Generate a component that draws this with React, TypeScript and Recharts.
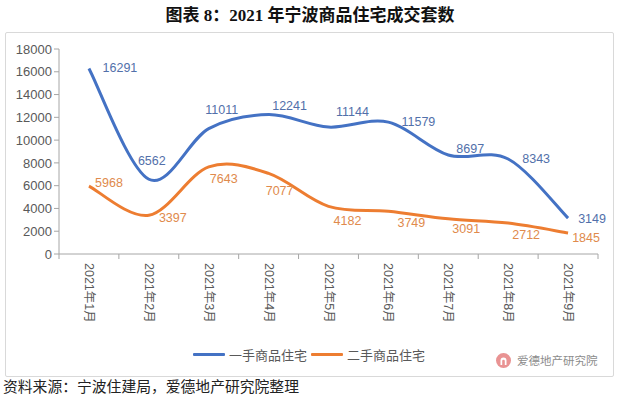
import React from 'react';
import { LineChart, Line, XAxis, YAxis, LabelList } from 'recharts';

const months = ['2021年1月', '2021年2月', '2021年3月', '2021年4月', '2021年5月', '2021年6月', '2021年7月', '2021年8月', '2021年9月'];
const firstHand = [16291, 6562, 11011, 12241, 11144, 11579, 8697, 8343, 3149];
const secondHand = [5968, 3397, 7643, 7077, 4182, 3749, 3091, 2712, 1845];
const yTicks = [0, 2000, 4000, 6000, 8000, 10000, 12000, 14000, 16000, 18000];

const FIRST_NAME = '一手商品住宅';
const SECOND_NAME = '二手商品住宅';
const BLUE = '#4472C4';
const ORANGE = '#ED7D31';
const BLUE_LABEL = '#5270AA';
const ORANGE_LABEL = '#E08A4C';
const AXIS = '#A6A6A6';
const TEXT = '#595959';
const FONT = '"Liberation Sans", "Noto Sans CJK SC", sans-serif';

// label nudges (center of label relative to point), hand placed like the original
const firstOffsets = [[31, 0], [3, -18], [13, -19], [21, -9], [24, -15], [30, 0], [22, -6], [28, 0], [24, 1]];
const secondOffsets = [[20, -3], [24, 3], [15, 12], [11, 18], [19, 15], [23, 12], [18, 10], [18, 12], [18, 5]];

const data = months.map((m, i) => ({ x: i + 0.5, month: m, first: firstHand[i], second: secondHand[i] }));
const xTicks = Array.from({ length: months.length * 2 + 1 }, (_, i) => i / 2);

// Excel-like smoothing (catmull-rom as cubic bezier)
const smoothCurve = (context: any) => {
  let pts: number[][] = [];
  return {
    areaStart() {},
    areaEnd() {},
    lineStart() {
      pts = [];
    },
    point(x: number, y: number) {
      pts.push([+x, +y]);
    },
    lineEnd() {
      const n = pts.length;
      if (!n) return;
      context.moveTo(pts[0][0], pts[0][1]);
      for (let i = 0; i < n - 1; i++) {
        const p0 = pts[Math.max(i - 1, 0)];
        const p1 = pts[i];
        const p2 = pts[i + 1];
        const p3 = pts[Math.min(i + 2, n - 1)];
        context.bezierCurveTo(
          p1[0] + (p2[0] - p0[0]) / 6,
          p1[1] + (p2[1] - p0[1]) / 6,
          p2[0] - (p3[0] - p1[0]) / 6,
          p2[1] - (p3[1] - p1[1]) / 6,
          p2[0],
          p2[1]
        );
      }
    },
  };
};

const MonthTick = (props: any) => {
  const { x, y, payload } = props;
  const v = payload.value;
  if (Number.isInteger(v)) {
    return <line x1={x} y1={y} x2={x} y2={y + 5} stroke={AXIS} />;
  }
  const ty = y + 9;
  return (
    <text
      x={x}
      y={ty}
      transform={`rotate(90 ${x} ${ty})`}
      textAnchor="start"
      dominantBaseline="central"
      fontSize={12.5}
      fill={TEXT}
      fontFamily={FONT}
    >
      {months[Math.floor(v)]}
    </text>
  );
};

const makeLabel = (offsets: number[][], color: string) => (p: any) => {
  const [dx, dy] = offsets[p.index] || [0, 0];
  return (
    <text
      x={p.x + dx}
      y={p.y + dy}
      textAnchor="middle"
      dominantBaseline="central"
      fontSize={12.5}
      fill={color}
      fontFamily={FONT}
    >
      {p.value}
    </text>
  );
};

const LegendItem = ({ color, name }: { color: string; name: string }) => (
  <div style={{ display: 'flex', alignItems: 'center', marginRight: 4 }}>
    <div style={{ width: 32, height: 3, background: color, borderRadius: 1, marginRight: 4 }} />
    <span style={{ fontSize: 13, color: TEXT, fontFamily: FONT }}>{name}</span>
  </div>
);

export default function App() {
  return (
    <div style={{ position: 'fixed', left: 0, top: 0, width: 620, height: 395, background: '#fff', overflow: 'hidden' }}>
      <div
        style={{
          position: 'absolute',
          top: 5,
          left: 0,
          width: 620,
          textAlign: 'center',
          fontSize: 17,
          fontWeight: 'bold',
          fontFamily: '"Liberation Serif", "Noto Sans CJK SC", serif',
          color: '#111',
          lineHeight: '22px',
        }}
      >
        图表 8：2021 年宁波商品住宅成交套数
      </div>
      <div
        style={{
          position: 'absolute',
          left: 5,
          top: 32,
          width: 607,
          height: 343,
          border: '1px solid #D9D9D9',
          borderRadius: 2,
        }}
      />
      <div style={{ position: 'absolute', left: 0, top: 0 }}>
        <LineChart width={620} height={340} data={data} margin={{ top: 49, right: 22, left: 0, bottom: 6 }}>
          <XAxis
            dataKey="x"
            type="number"
            domain={[0, months.length]}
            ticks={xTicks}
            interval={0}
            allowDecimals
            tickSize={0}
            tickMargin={0}
            tickLine={false}
            height={80}
            stroke={AXIS}
            tick={<MonthTick />}
          />
          <YAxis
            type="number"
            domain={[0, 18000]}
            ticks={yTicks}
            interval={0}
            width={59}
            tickSize={5}
            tickMargin={2}
            stroke={AXIS}
            tick={{ fontSize: 13, fill: TEXT, fontFamily: FONT }}
          />
          <Line
            dataKey="first"
            name={FIRST_NAME}
            type={smoothCurve as any}
            stroke={BLUE}
            strokeWidth={3}
            dot={false}
            isAnimationActive={false}
          >
            <LabelList dataKey="first" content={makeLabel(firstOffsets, BLUE_LABEL)} />
          </Line>
          <Line
            dataKey="second"
            name={SECOND_NAME}
            type={smoothCurve as any}
            stroke={ORANGE}
            strokeWidth={3}
            dot={false}
            isAnimationActive={false}
          >
            <LabelList dataKey="second" content={makeLabel(secondOffsets, ORANGE_LABEL)} />
          </Line>
        </LineChart>
      </div>
      <div style={{ position: 'absolute', top: 345, left: 193, display: 'flex', height: 18, alignItems: 'center' }}>
        <LegendItem color={BLUE} name={FIRST_NAME} />
        <LegendItem color={ORANGE} name={SECOND_NAME} />
      </div>
      <div style={{ position: 'absolute', top: 351, left: 496, display: 'flex', alignItems: 'center', height: 18 }}>
        <svg width={15} height={15} style={{ marginRight: 6 }}>
          <circle cx={7.5} cy={7.5} r={7.5} fill="#E99393" />
          <path d="M4.5 12 V7.5 A3 3 0 0 1 10.5 7.5 V12 H8.8 V8 A1.3 1.3 0 0 0 6.2 8 V12 Z" fill="#fff" />
        </svg>
        <span style={{ fontSize: 11.5, color: '#8C8C8C', fontFamily: FONT }}>爱德地产研究院</span>
      </div>
      <div
        style={{
          position: 'absolute',
          top: 377,
          left: 3,
          height: 18,
          fontSize: 14.8,
          color: '#222',
          fontFamily: '"Noto Sans CJK SC", sans-serif',
          lineHeight: '18px',
          whiteSpace: 'nowrap',
        }}
      >
        资料来源：宁波住建局，爱德地产研究院整理
      </div>
    </div>
  );
}
